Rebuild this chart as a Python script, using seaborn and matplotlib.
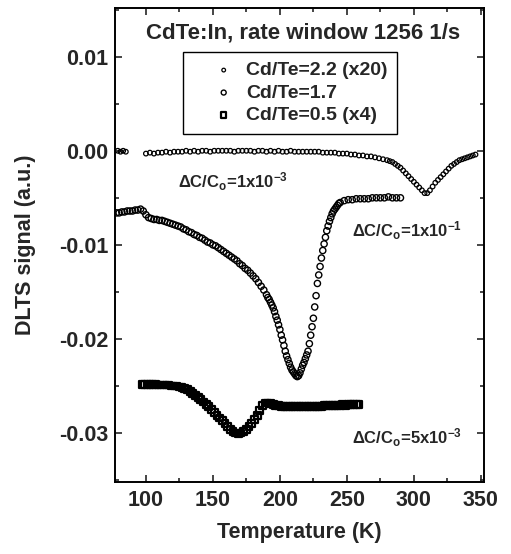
import matplotlib
matplotlib.use("Agg")
import matplotlib.pyplot as plt
import seaborn as sns
import pandas as pd
from matplotlib.ticker import MultipleLocator, FormatStrFormatter

# data (Temperature in K, DLTS signal in a.u.)
labels = ["Cd/Te=2.2 (x20)", "Cd/Te=1.7", "Cd/Te=0.5 (x4)"]

temp_22 = [79, 81, 83, 85,
           100, 103, 106, 109, 112, 115, 118, 121, 124, 127, 130, 133, 136, 139, 142, 145,
           148, 151, 154, 157, 160, 163, 166, 169, 172, 175, 178, 181, 184, 187, 190, 193,
           196, 199, 202, 205, 208, 211, 214, 217, 220, 223, 226, 229, 232, 235, 238, 241,
           244, 247, 250, 253, 256, 259, 262, 265, 268, 271, 274, 277, 280, 282, 284, 286,
           288, 290, 292, 294, 296, 298, 300, 302, 304, 306, 308, 310, 312, 314, 316, 318,
           320, 322, 324, 326, 328, 330, 332, 334, 336, 338, 340, 342, 344, 346]
sig_22 = [0.0000, -0.0001, 0.0000, -0.0001,
          -0.0003, -0.0002, -0.0003, -0.0002, -0.0002, -0.0001, -0.0002, -0.0001, -0.0001, -0.0001,
          0.0000, -0.0001, 0.0000, -0.0001, 0.0000, 0.0000, -0.0001, 0.0000, 0.0000, 0.0000,
          0.0000, 0.0000, -0.0001, 0.0000, 0.0000, 0.0000, 0.0000, -0.0001, 0.0000, 0.0000,
          -0.0001, 0.0000, -0.0001, 0.0000, -0.0001, -0.0001, 0.0000, -0.0001, -0.0001, -0.0001,
          -0.0001, -0.0001, -0.0001, -0.0001, -0.0002, -0.0002, -0.0002, -0.0002, -0.0003, -0.0003,
          -0.0003, -0.0004, -0.0004, -0.0005, -0.0005, -0.0006, -0.0006, -0.0007, -0.0008, -0.0009,
          -0.0010, -0.0011, -0.0012, -0.0014, -0.0016, -0.0018, -0.0021, -0.0024, -0.0027, -0.0030,
          -0.0033, -0.0036, -0.0039, -0.0042, -0.0045, -0.0045, -0.0042, -0.0038, -0.0034, -0.0031,
          -0.0028, -0.0025, -0.0022, -0.0019, -0.0016, -0.0014, -0.0012, -0.0010, -0.0009, -0.0008,
          -0.0007, -0.0006, -0.0005, -0.0004]

temp_17 = [78, 80, 82, 84, 86, 88, 90, 92, 94, 96, 98, 100, 102, 104, 106, 108, 110, 112, 114,
           116, 118, 120, 122, 124, 126, 128, 130, 132, 134, 136, 138, 140, 142, 144, 146, 148,
           150, 152, 154, 156, 158, 160, 162, 164, 166, 168, 170, 172, 174, 176, 178, 180, 182,
           184, 186, 188, 190, 191, 192, 193, 194, 195, 196, 197, 198, 199, 200, 201, 202, 203,
           204, 205, 206, 207, 208, 209, 210, 211, 212, 213, 214, 215, 216, 217, 218, 219, 220,
           221, 222, 223, 224, 225, 226, 227, 228, 229, 230, 231, 232, 233, 234, 235, 236, 237,
           238, 239, 240, 241, 242, 243, 244, 245, 248, 251, 254, 257, 260, 263, 266, 269, 272,
           275, 278, 281, 284, 287, 290]
sig_17 = [-0.0066, -0.0066, -0.0065, -0.0065, -0.0064, -0.0064, -0.0064, -0.0063, -0.0063, -0.0062,
          -0.0064, -0.0068, -0.0071, -0.0072, -0.0073, -0.0073, -0.0074, -0.0074, -0.0075, -0.0076,
          -0.0077, -0.0078, -0.0079, -0.0080, -0.0081, -0.0083, -0.0084, -0.0086, -0.0087, -0.0089,
          -0.0090, -0.0092, -0.0093, -0.0095, -0.0097, -0.0098, -0.0100, -0.0101, -0.0103, -0.0105,
          -0.0107, -0.0109, -0.0111, -0.0113, -0.0115, -0.0117, -0.0120, -0.0122, -0.0125, -0.0127,
          -0.0130, -0.0133, -0.0136, -0.0140, -0.0144, -0.0148, -0.0153, -0.0156, -0.0158, -0.0161,
          -0.0164, -0.0167, -0.0171, -0.0176, -0.0180, -0.0185, -0.0190, -0.0196, -0.0201, -0.0207,
          -0.0213, -0.0218, -0.0222, -0.0226, -0.0230, -0.0233, -0.0235, -0.0237, -0.0239, -0.0240,
          -0.0239, -0.0236, -0.0232, -0.0228, -0.0225, -0.0221, -0.0217, -0.0213, -0.0205, -0.0196,
          -0.0187, -0.0178, -0.0166, -0.0154, -0.0141, -0.0132, -0.0123, -0.0114, -0.0106, -0.0099,
          -0.0092, -0.0085, -0.0080, -0.0075, -0.0071, -0.0067, -0.0064, -0.0062, -0.0060, -0.0058,
          -0.0056, -0.0055, -0.0053, -0.0052, -0.0052, -0.0051, -0.0051, -0.0051, -0.0051, -0.0050,
          -0.0050, -0.0050, -0.0050, -0.0049, -0.0050, -0.0050, -0.0050]

temp_05 = [97, 99, 101, 103, 105, 107, 109, 111, 113, 115, 117, 119, 121, 123, 125, 127, 129, 131,
           133, 135, 137, 139, 141, 143, 145, 147, 149, 151, 153, 155, 157, 159, 161, 163, 165,
           167, 169, 171, 173, 175, 177, 179, 181, 183, 185, 187, 189, 191, 193, 195, 197, 199,
           201, 203, 205, 207, 209, 211, 213, 215, 217, 219, 221, 223, 225, 227, 229, 231, 233,
           235, 237, 239, 241, 243, 245, 247, 249, 251, 253, 255, 257, 259]
sig_05 = [-0.0248, -0.0248, -0.0248, -0.0248, -0.0248, -0.0248, -0.0249, -0.0249, -0.0249, -0.0249,
          -0.0249, -0.0250, -0.0250, -0.0250, -0.0251, -0.0252, -0.0253, -0.0254, -0.0256, -0.0258,
          -0.0260, -0.0262, -0.0264, -0.0267, -0.0270, -0.0272, -0.0275, -0.0278, -0.0281, -0.0284,
          -0.0287, -0.0290, -0.0293, -0.0296, -0.0298, -0.0300, -0.0301, -0.0300, -0.0298, -0.0296,
          -0.0293, -0.0290, -0.0286, -0.0281, -0.0276, -0.0271, -0.0268, -0.0268, -0.0269, -0.0270,
          -0.0271, -0.0271, -0.0272, -0.0272, -0.0272, -0.0272, -0.0272, -0.0272, -0.0272, -0.0272,
          -0.0272, -0.0272, -0.0272, -0.0272, -0.0272, -0.0272, -0.0272, -0.0272, -0.0271, -0.0271,
          -0.0271, -0.0271, -0.0271, -0.0271, -0.0271, -0.0270, -0.0271, -0.0270, -0.0270, -0.0270,
          -0.0270, -0.0270]

sns.set_style("ticks")
plt.rcParams["font.family"] = ["Liberation Sans", "DejaVu Sans"]
plt.rcParams["font.weight"] = "bold"
plt.rcParams["axes.labelweight"] = "bold"
plt.rcParams["mathtext.fontset"] = "custom"
plt.rcParams["mathtext.rm"] = "Liberation Sans:bold"
plt.rcParams["mathtext.it"] = "Liberation Sans:bold"
plt.rcParams["mathtext.bf"] = "Liberation Sans:bold"
plt.rcParams["axes.unicode_minus"] = False

fig = plt.figure(figsize=(5.11, 5.54), dpi=100)
ax = fig.add_axes([0.225, 0.130, 0.722, 0.856])

sns.scatterplot(x=temp_22, y=sig_22, ax=ax, marker="o", s=11, facecolor="none",
                edgecolor="black", linewidth=0.9, label=labels[0])
sns.scatterplot(x=temp_17, y=sig_17, ax=ax, marker="o", s=20, facecolor="none",
                edgecolor="black", linewidth=1.0, label=labels[1])
sns.scatterplot(x=temp_05, y=sig_05, ax=ax, marker="s", s=24, facecolor="none",
                edgecolor="black", linewidth=1.6, label=labels[2])

ax.set_xlim(76.9, 352.3)
ax.set_ylim(-0.0352, 0.0152)
ax.xaxis.set_major_locator(MultipleLocator(50))
ax.xaxis.set_minor_locator(MultipleLocator(25))
ax.yaxis.set_major_locator(MultipleLocator(0.01))
ax.yaxis.set_minor_locator(MultipleLocator(0.005))
ax.yaxis.set_major_formatter(FormatStrFormatter("%.2f"))
ax.tick_params(which="both", direction="in", top=True, right=True, width=1.2, labelsize=15.5)
ax.tick_params(which="major", length=5)
ax.tick_params(axis="x", which="major", pad=6)
ax.tick_params(axis="y", which="major", pad=5)
ax.tick_params(which="minor", length=3)
for sp in ax.spines.values():
    sp.set_linewidth(1.4)
    sp.set_color("black")

ax.set_xlabel("Temperature (K)", fontsize=15.5, labelpad=8)
ax.set_ylabel("DLTS signal (a.u.)", fontsize=15.5, labelpad=16)

ax.text(217, 0.0125, "CdTe:In, rate window 1256 1/s", fontsize=16, ha="center", va="center")
ax.text(124, -0.0033, r"$\Delta$C/C$_\mathrm{o}$=1x10$^{-3}$", fontsize=12, ha="left", va="center")
ax.text(254, -0.0085, r"$\Delta$C/C$_\mathrm{o}$=1x10$^{-1}$", fontsize=12, ha="left", va="center")
ax.text(254, -0.0305, r"$\Delta$C/C$_\mathrm{o}$=5x10$^{-3}$", fontsize=12, ha="left", va="center")

leg = ax.legend(loc="upper left", bbox_to_anchor=(0.184, 0.907), fontsize=14,
                frameon=True, fancybox=False, framealpha=1, edgecolor="black",
                borderaxespad=0, handlelength=3.2, handletextpad=-0.45,
                borderpad=0.5, labelspacing=0.25, markerscale=0.8)
leg.get_frame().set_linewidth(1.0)

fig.savefig("out.png", dpi=100)
